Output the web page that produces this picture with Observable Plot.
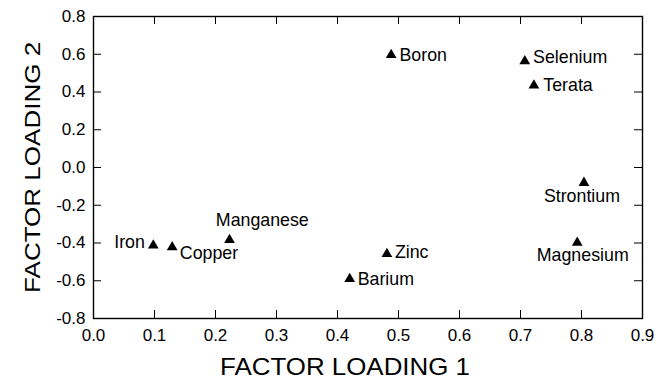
<!DOCTYPE html>
<html>
<head>
<meta charset="utf-8">
<script src="https://cdn.jsdelivr.net/npm/d3@7"></script>
<script src="https://cdn.jsdelivr.net/npm/@observablehq/plot@0.6"></script>
<style>
  html, body { margin: 0; padding: 0; background: #fff; }
  svg { display: block; }
</style>
</head>
<body>
<div id="chart"></div>
<script>
// ---- data ----
const names = ["Iron", "Copper", "Manganese", "Zinc", "Barium", "Magnesium", "Strontium", "Boron", "Selenium", "Terata"];
const loading1 = [0.098, 0.129, 0.223, 0.481, 0.420, 0.793, 0.804, 0.488, 0.707, 0.722];
const loading2 = [-0.405, -0.414, -0.376, -0.450, -0.582, -0.390, -0.073, 0.604, 0.571, 0.443];
const xTicks = [0.0, 0.1, 0.2, 0.3, 0.4, 0.5, 0.6, 0.7, 0.8, 0.9];
const yTicks = [-0.8, -0.6, -0.4, -0.2, 0.0, 0.2, 0.4, 0.6, 0.8];
const xTitle = "FACTOR LOADING 1";
const yTitle = "FACTOR LOADING 2";

// ---- label placement (style) ----
const labelStyle = [
  {anchor: "end",    dx: -8.4, dy: -2.1},
  {anchor: "start",  dx: 7.6,  dy: 7.4},
  {anchor: "start",  dx: -13.7, dy: -18.3},
  {anchor: "start",  dx: 8,    dy: 0.2},
  {anchor: "start",  dx: 8,    dy: 1.8},
  {anchor: "middle", dx: 5.5,  dy: 13.9},
  {anchor: "middle", dx: -2,   dy: 14.7},
  {anchor: "start",  dx: 8.3,  dy: 1.5},
  {anchor: "start",  dx: 8.3,  dy: -2.7},
  {anchor: "start",  dx: 9.4,  dy: 1.9}
];

const W = 668, H = 379;
const mL = 93, mR = 26, mT = 16, mB = 61;
const plotW = W - mL - mR, plotH = H - mT - mB;
const tickLen = 8;
const fmt = d => d.toFixed(1);
const idx = names.map((_, i) => i);

const labelMarks = idx.map(i => Plot.text([i], {
  x: j => loading1[j], y: j => loading2[j], text: j => names[j],
  textAnchor: labelStyle[i].anchor, dx: labelStyle[i].dx, dy: labelStyle[i].dy,
  lineAnchor: "middle", fontSize: 17.8, fill: "black"
}));

const svg = Plot.plot({
  width: W, height: H,
  marginLeft: mL, marginRight: mR, marginTop: mT, marginBottom: mB,
  style: {fontFamily: "'Liberation Sans', Arial, Helvetica, sans-serif", background: "white", color: "black"},
  x: {domain: [0, 0.9]},
  y: {domain: [-0.8, 0.8]},
  marks: [
    Plot.axisX({ticks: xTicks, tickFormat: fmt, tickSize: 0, tickPadding: 10, fontSize: 17, label: null}),
    Plot.axisY({ticks: yTicks, tickFormat: fmt, tickSize: 0, tickPadding: 8, fontSize: 17, label: null}),
    Plot.tickX(xTicks, {x: d => d, insetTop: plotH - tickLen, stroke: "black", strokeWidth: 1}),
    Plot.tickX(xTicks, {x: d => d, insetBottom: plotH - tickLen, stroke: "black", strokeWidth: 1}),
    Plot.tickY(yTicks, {y: d => d, insetRight: plotW - tickLen, stroke: "black", strokeWidth: 1}),
    Plot.tickY(yTicks, {y: d => d, insetLeft: plotW - tickLen, stroke: "black", strokeWidth: 1}),
    Plot.frame({stroke: "black", strokeWidth: 1.4}),
    Plot.dot(idx, {x: i => loading1[i], y: i => loading2[i], symbol: "triangle", r: 4, fill: "black", stroke: "none", dy: 1.5}),
    ...labelMarks
  ]
});

const s = d3.select(svg);
s.append("text")
  .attr("x", 345).attr("y", 374.5)
  .attr("text-anchor", "middle")
  .attr("font-size", 24)
  .attr("textLength", 250).attr("lengthAdjust", "spacingAndGlyphs")
  .attr("fill", "black")
  .text(xTitle);
s.append("text")
  .attr("transform", "translate(40.3,167.4) rotate(-90)")
  .attr("text-anchor", "middle")
  .attr("font-size", 22.5)
  .attr("textLength", 251).attr("lengthAdjust", "spacingAndGlyphs")
  .attr("fill", "black")
  .text(yTitle);

document.getElementById("chart").appendChild(svg);
</script>
</body>
</html>
